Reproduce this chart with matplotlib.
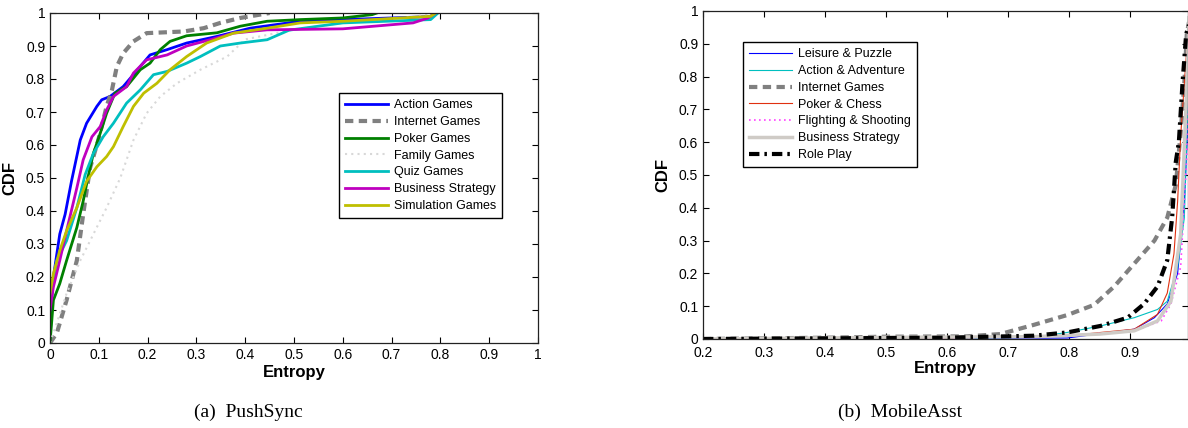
import matplotlib
matplotlib.use("Agg")
from matplotlib import pyplot as plt

plt.rcParams["font.family"] = ["Liberation Sans", "DejaVu Sans"]

# ---- (a) PushSync: CDF of entropy per category ----
action_x = [0, 0.005, 0.02, 0.031, 0.044, 0.062, 0.075, 0.096, 0.106, 0.123, 0.15, 0.185, 0.205, 0.24, 0.28, 0.342, 0.41, 0.513, 0.6, 0.7, 0.779, 0.79]
action_y = [0, 0.18, 0.33, 0.39, 0.49, 0.615, 0.666, 0.717, 0.737, 0.747, 0.777, 0.838, 0.873, 0.889, 0.909, 0.929, 0.954, 0.975, 0.98, 0.985, 0.989, 1.0]

internet_x = [0, 0.014, 0.034, 0.055, 0.068, 0.082, 0.099, 0.116, 0.127, 0.137, 0.15, 0.171, 0.198, 0.274, 0.315, 0.349, 0.39, 0.43, 0.45]
internet_y = [0, 0.03, 0.13, 0.25, 0.39, 0.53, 0.615, 0.717, 0.767, 0.838, 0.878, 0.914, 0.939, 0.944, 0.954, 0.97, 0.985, 0.995, 1.0]

poker_x = [0, 0.007, 0.02, 0.034, 0.055, 0.068, 0.079, 0.089, 0.103, 0.116, 0.133, 0.157, 0.185, 0.205, 0.226, 0.246, 0.28, 0.342, 0.39, 0.445, 0.513, 0.6, 0.66, 0.67]
poker_y = [0, 0.13, 0.18, 0.25, 0.35, 0.43, 0.51, 0.575, 0.636, 0.696, 0.757, 0.777, 0.828, 0.848, 0.889, 0.914, 0.931, 0.94, 0.96, 0.975, 0.98, 0.985, 0.995, 1.0]

family_x = [0, 0.007, 0.034, 0.062, 0.089, 0.116, 0.144, 0.171, 0.198, 0.226, 0.26, 0.308, 0.363, 0.4, 0.5, 0.6, 0.7, 0.8]
family_y = [0, 0.03, 0.15, 0.25, 0.33, 0.41, 0.5, 0.615, 0.696, 0.747, 0.787, 0.828, 0.868, 0.92, 0.95, 0.97, 0.98, 1.0]

quiz_x = [0, 0.014, 0.034, 0.055, 0.072, 0.089, 0.109, 0.13, 0.157, 0.185, 0.212, 0.24, 0.28, 0.308, 0.349, 0.39, 0.445, 0.49, 0.6, 0.78, 0.795]
quiz_y = [0.14, 0.25, 0.31, 0.41, 0.51, 0.575, 0.625, 0.666, 0.727, 0.767, 0.813, 0.823, 0.848, 0.868, 0.9, 0.909, 0.919, 0.948, 0.97, 0.98, 1.0]

business_x = [0, 0.007, 0.02, 0.034, 0.055, 0.068, 0.086, 0.103, 0.116, 0.13, 0.157, 0.171, 0.198, 0.24, 0.28, 0.328, 0.376, 0.445, 0.6, 0.744, 0.775, 0.79]
business_y = [0.1, 0.17, 0.25, 0.34, 0.47, 0.555, 0.625, 0.656, 0.706, 0.747, 0.777, 0.818, 0.858, 0.873, 0.9, 0.919, 0.939, 0.949, 0.952, 0.97, 0.985, 1.0]

simulation_x = [0, 0.007, 0.02, 0.034, 0.055, 0.075, 0.096, 0.116, 0.13, 0.15, 0.171, 0.192, 0.219, 0.246, 0.28, 0.321, 0.376, 0.445, 0.513, 0.6, 0.78, 0.79]
simulation_y = [0.15, 0.21, 0.28, 0.34, 0.41, 0.49, 0.534, 0.565, 0.595, 0.656, 0.717, 0.757, 0.787, 0.828, 0.868, 0.909, 0.939, 0.954, 0.97, 0.975, 0.99, 1.0]

# ---- (b) MobileAsst ----
leisure_x = [0.2, 0.5, 0.797, 0.907, 0.94, 0.961, 0.978, 0.989, 0.994, 0.997]
leisure_y = [0, 0.0, 0.003, 0.03, 0.065, 0.107, 0.2, 0.42, 0.62, 0.8]

adventure_x = [0.2, 0.5, 0.742, 0.797, 0.852, 0.907, 0.945, 0.961, 0.978, 0.989, 0.995, 0.997]
adventure_y = [0, 0.0, 0.005, 0.02, 0.04, 0.065, 0.09, 0.115, 0.22, 0.37, 0.72, 0.8]

internet_b_x = [0.2, 0.4, 0.5, 0.632, 0.687, 0.742, 0.797, 0.841, 0.874, 0.907, 0.94, 0.961, 0.975, 0.983, 0.989, 0.993, 0.997]
internet_b_y = [0, 0.004, 0.007, 0.008, 0.015, 0.043, 0.073, 0.104, 0.16, 0.23, 0.30, 0.37, 0.47, 0.63, 0.78, 0.93, 0.97]

chess_x = [0.38, 0.6, 0.8, 0.852, 0.907, 0.945, 0.961, 0.972, 0.978, 0.983, 0.989, 0.994, 0.997]
chess_y = [0, 0.003, 0.01, 0.02, 0.03, 0.075, 0.14, 0.26, 0.42, 0.62, 0.78, 0.91, 0.95]

shooting_x = [0.2, 0.6, 0.8, 0.907, 0.951, 0.967, 0.983, 0.992, 0.997]
shooting_y = [0, 0.003, 0.01, 0.025, 0.055, 0.107, 0.22, 0.52, 0.8]

strategy_x = [0.2, 0.5, 0.742, 0.85, 0.907, 0.945, 0.967, 0.983, 0.992, 0.997]
strategy_y = [0, 0.005, 0.007, 0.015, 0.025, 0.055, 0.115, 0.32, 0.72, 1.0]

roleplay_x = [0.2, 0.4, 0.6, 0.742, 0.797, 0.852, 0.896, 0.923, 0.945, 0.961, 0.969, 0.975, 0.98, 0.986, 0.992, 0.997]
roleplay_y = [0, 0.002, 0.004, 0.01, 0.02, 0.04, 0.065, 0.107, 0.16, 0.24, 0.37, 0.54, 0.6, 0.78, 0.93, 0.96]


def style_axes(ax):
    ax.tick_params(axis="both", which="both", direction="in", top=True, right=True,
                   length=4, width=0.8, labelsize=10)
    for s in ax.spines.values():
        s.set_linewidth(0.9)
        s.set_color("#222222")


def add_legend(ax, anchor):
    leg = ax.legend(loc="upper left", bbox_to_anchor=anchor, fontsize=9, frameon=True,
                    fancybox=False, edgecolor="black", framealpha=1, handlelength=3.4,
                    borderpad=0.5, labelspacing=0.38, handletextpad=0.5, borderaxespad=0)
    leg.get_frame().set_linewidth(1.0)
    return leg


fig = plt.figure(figsize=(11.88, 4.28), dpi=100)

# left panel
ax1 = fig.add_axes([50 / 1188, 1 - 343 / 428, 488 / 1188, 330 / 428])
ax1.plot(action_x, action_y, color="#0000ff", lw=2.0, label="Action Games")
ax1.plot(internet_x, internet_y, color="#808080", lw=3.0, ls=(0, (2.0, 1.3)), label="Internet Games")
ax1.plot(poker_x, poker_y, color="#008000", lw=2.0, label="Poker Games")
ax1.plot(family_x, family_y, color="#d8d8d8", lw=1.5, ls=(0, (1, 2)), label="Family Games")
ax1.plot(quiz_x, quiz_y, color="#00bfbf", lw=2.0, label="Quiz Games")
ax1.plot(business_x, business_y, color="#bf00bf", lw=2.0, label="Business Strategy")
ax1.plot(simulation_x, simulation_y, color="#bfbf00", lw=2.0, label="Simulation Games")
ax1.set_xlim(0, 1)
ax1.set_ylim(0, 1)
ax1.set_xticks([i / 10 for i in range(11)])
ax1.set_yticks([i / 10 for i in range(11)])
ax1.set_xticklabels(["0"] + [f"{i / 10:g}" for i in range(1, 10)] + ["1"])
ax1.set_yticklabels(["0"] + [f"{i / 10:g}" for i in range(1, 10)] + ["1"])
ax1.set_xlabel("Entropy", fontsize=12, fontweight="bold", labelpad=2)
ax1.set_ylabel("CDF", fontsize=12, fontweight="bold", labelpad=6)
style_axes(ax1)
add_legend(ax1, (0.592, 0.757))

# right panel
ax2 = fig.add_axes([703 / 1188, 1 - 339 / 428, 485 / 1188, 328 / 428])
ax2.plot(leisure_x, leisure_y, color="#0000ff", lw=0.8, label="Leisure & Puzzle")
ax2.plot(adventure_x, adventure_y, color="#00bfbf", lw=0.8, label="Action & Adventure")
ax2.plot(internet_b_x, internet_b_y, color="#808080", lw=3.0, ls=(0, (2.0, 1.3)), label="Internet Games")
ax2.plot(chess_x, chess_y, color="#e03010", lw=0.8, label="Poker & Chess")
ax2.plot(shooting_x, shooting_y, color="#ff40ff", lw=1.2, ls=(0, (1, 2)), label="Flighting & Shooting")
ax2.plot(strategy_x, strategy_y, color="#cfcbc6", lw=2.5, label="Business Strategy")
ax2.plot(roleplay_x, roleplay_y, color="black", lw=3.0, ls=(0, (2.5, 1.2, 0.6, 1.2)), label="Role Play")
ax2.set_xlim(0.2, 0.995)
ax2.set_ylim(0, 1)
ax2.set_xticks([i / 10 for i in range(2, 10)])
ax2.set_yticks([i / 10 for i in range(11)])
ax2.set_yticklabels(["0"] + [f"{i / 10:g}" for i in range(1, 10)] + ["1"])
ax2.set_xlabel("Entropy", fontsize=12, fontweight="bold", labelpad=1)
ax2.set_ylabel("CDF", fontsize=12, fontweight="bold", labelpad=6)
style_axes(ax2)
ax2.tick_params(axis="x", pad=5)
add_legend(ax2, (0.082, 0.905))

# captions
fig.text(248 / 1188, 1 - 412 / 428, "(a)  PushSync", ha="center", va="center",
         fontsize=14, family="Liberation Serif")
fig.text(900 / 1188, 1 - 412 / 428, "(b)  MobileAsst", ha="center", va="center",
         fontsize=14, family="Liberation Serif")

fig.savefig("out.png", dpi=100)
